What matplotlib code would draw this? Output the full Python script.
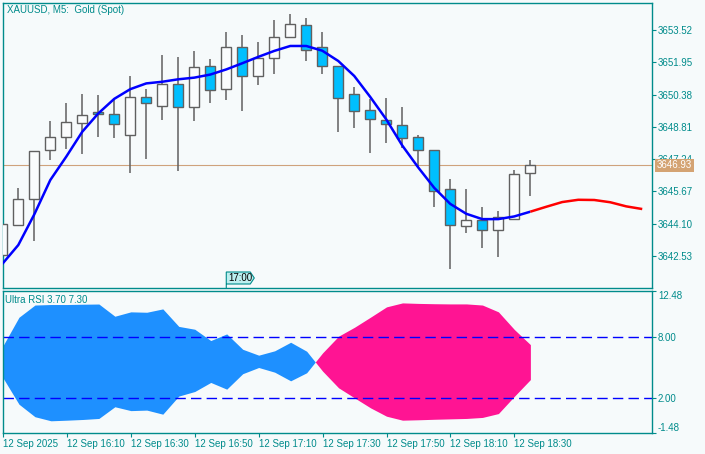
import numpy as np
import matplotlib
matplotlib.use("Agg")
import matplotlib.pyplot as plt
from matplotlib.patches import Polygon
from matplotlib.transforms import IdentityTransform

plt.rcParams['font.family'] = ['Liberation Sans', 'DejaVu Sans']

# ---------------- data ----------------
opens = [3642.58, 3644.02, 3645.29, 3647.67, 3648.30, 3648.98, 3649.52, 3649.42, 3648.40, 3650.25,
         3649.81, 3650.88, 3649.79, 3651.75, 3650.67, 3652.68, 3651.27, 3652.14, 3653.17, 3653.75,
         3652.68, 3651.75, 3650.39, 3649.61, 3649.13, 3648.89, 3648.30, 3647.67, 3645.77, 3643.97,
         3644.26, 3643.78, 3644.31, 3646.55]
closes = [3644.07, 3645.29, 3647.62, 3648.30, 3649.03, 3649.37, 3649.42, 3648.93, 3650.25, 3649.95,
          3650.88, 3649.76, 3651.71, 3650.59, 3652.68, 3651.27, 3652.14, 3653.17, 3653.80, 3652.53,
          3651.75, 3650.20, 3649.57, 3649.18, 3648.93, 3648.25, 3647.67, 3645.67, 3644.02, 3644.26,
          3643.78, 3644.41, 3646.50, 3646.93]
highs = [3644.10, 3645.82, 3647.65, 3649.09, 3649.97, 3650.41, 3650.36, 3650.16, 3651.28, 3650.65,
         3652.30, 3652.21, 3652.50, 3652.11, 3653.42, 3653.29, 3652.94, 3654.01, 3654.30, 3654.10,
         3653.42, 3651.75, 3650.73, 3650.16, 3650.20, 3649.76, 3648.40, 3647.67, 3646.26, 3645.77,
         3644.90, 3644.70, 3646.70, 3647.18]
lows = [3642.50, 3644.00, 3643.24, 3647.20, 3647.75, 3647.50, 3648.33, 3648.28, 3646.58, 3647.25,
        3649.16, 3646.68, 3649.11, 3649.98, 3650.13, 3649.60, 3650.86, 3651.40, 3653.15, 3652.03,
        3651.40, 3648.57, 3648.77, 3647.55, 3648.04, 3647.77, 3646.87, 3644.93, 3641.88, 3643.66,
        3642.90, 3642.49, 3644.28, 3645.46]

ma_blue = [3642.14, 3643.06, 3644.55, 3646.22, 3647.36, 3648.57, 3649.46, 3650.17, 3650.64, 3650.92,
           3651.00, 3651.12, 3651.20, 3651.35, 3651.60, 3651.90, 3652.21, 3652.50, 3652.74, 3652.74,
           3652.51, 3652.01, 3651.28, 3650.26, 3649.17, 3647.90, 3646.83, 3645.84, 3645.06, 3644.58,
           3644.32, 3644.32, 3644.45, 3644.68]
ma_red = [3644.68, 3644.92, 3645.15, 3645.26, 3645.25, 3645.14, 3644.94, 3644.81]

rsi_fast = [7.10, 9.90, 11.10, 11.15, 11.15, 11.18, 11.20, 10.00, 10.43, 10.39,
            10.72, 9.00, 8.72, 7.61, 8.26, 6.75, 6.17, 6.60, 7.44, 6.56,
            4.60, 2.96, 1.97, 0.99, 0.17, -0.22, -0.18, -0.13, -0.09, -0.05,
            0.05, 0.43, 2.13, 3.77]
rsi_slow = [3.94, 1.35, 0.12, -0.28, -0.22, -0.15, -0.05, 1.10, 0.72, 0.77,
            0.37, 2.15, 2.60, 3.49, 2.83, 4.35, 4.96, 4.50, 3.65, 4.44,
            6.40, 8.04, 8.92, 9.91, 10.92, 11.31, 11.26, 11.23, 11.21, 11.21,
            11.10, 10.43, 8.69, 7.21]
rsi_levels = [8.00, 2.00]

price_ticks = [3653.52, 3651.95, 3650.38, 3648.81, 3647.24, 3645.67, 3644.10, 3642.53]
rsi_ticks = [12.48, 8.00, 2.00, -1.48]
time_tick_idx = [0, 4, 8, 12, 16, 20, 24, 28, 32]
time_tick_labels = ['12 Sep 2025', '12 Sep 16:10', '12 Sep 16:30', '12 Sep 16:50', '12 Sep 17:10',
                    '12 Sep 17:30', '12 Sep 17:50', '12 Sep 18:10', '12 Sep 18:30']
marker_idx = 14
marker_label = '17:00'
current_price = 3646.93
title = 'XAUUSD, M5:  Gold (Spot)'
sub_title = 'Ultra RSI 3.70 7.30'

# ---------------- style ----------------
BG = '#F6FAFB'
TEAL = '#008B8B'
BEAR = '#00BFFF'
EDGE = '#606060'
FS = 7

W, H = 705, 454
fig = plt.figure(figsize=(W / 100, H / 100), dpi=100, facecolor=BG)
ax1 = fig.add_axes([3 / W, 1 - 288 / H, 649 / W, 285 / H], facecolor=BG)
ax2 = fig.add_axes([3 / W, 1 - 433 / H, 649 / W, 142 / H], facecolor=BG)

n = len(opens)
x = np.arange(n)
o = np.array(opens); c = np.array(closes); h = np.array(highs); l = np.array(lows)
xlim = (0.044, 40.61)

# ---------- main panel ----------
ax1.axhline(current_price, color='#CFA27C', lw=0.8, zorder=1)
ax1.vlines(x, l, h, color=EDGE, lw=1.1, zorder=2)
bull = c >= o
body_bottom = np.minimum(o, c)
body_h = np.maximum(np.abs(c - o), 0.05)
ax1.bar(x, body_h, bottom=body_bottom, width=0.62,
        color=np.where(bull, '#FAFCFD', BEAR), edgecolor=EDGE, linewidth=1.0, zorder=3)
ax1.plot(x, ma_blue, color='#0000FF', lw=1.8, zorder=4, solid_capstyle='butt')
xr = np.arange(n - 1, n - 1 + len(ma_red))
ax1.plot(xr, ma_red, color='#FF0000', lw=1.8, zorder=4, solid_capstyle='butt')

ax1.set_xlim(*xlim)
ax1.set_ylim(3640.97, 3654.83)
ax1.set_xticks([])
ax1.yaxis.tick_right()
ax1.set_yticks(price_ticks)
ax1.set_yticklabels([f'{v:.2f}' for v in price_ticks])
ax1.tick_params(axis='y', direction='out', length=3, width=0.8, color=TEAL,
                labelcolor=TEAL, labelsize=FS, pad=1.2)
for s in ax1.spines.values():
    s.set_color(TEAL); s.set_linewidth(1.0)

ax1.text(0.006, 0.9754, title, transform=ax1.transAxes, fontsize=FS, color=TEAL,
         va='center', ha='left')

# current price tag
ax1.annotate(f'{current_price:.2f}', xy=(1, current_price),
             xycoords=('axes fraction', 'data'), xytext=(3.5, 0), textcoords='offset points',
             fontsize=FS, color='white', va='center', ha='left', annotation_clip=False,
             bbox=dict(boxstyle='square,pad=0.18', fc='#D4A373', ec='none'), zorder=10)

# ---------- sub panel ----------
A = np.array(rsi_fast); B = np.array(rsi_slow)
ax2.fill_between(x, A, B, where=A >= B, interpolate=True, color='#1E90FF', lw=0)
ax2.fill_between(x, A, B, where=A <= B, interpolate=True, color='#FF1493', lw=0)
for lev in rsi_levels:
    ax2.axhline(lev, color='#0000FF', lw=1.0, dashes=(7.5, 3.75))
ax2.set_xlim(*xlim)
ax2.set_ylim(-1.48, 12.48)
ax2.yaxis.tick_right()
ax2.set_yticks(rsi_ticks)
ax2.set_yticklabels([f'{v:.2f}' for v in rsi_ticks])
ax2.tick_params(axis='y', direction='out', length=3, width=0.8, color=TEAL,
                labelcolor=TEAL, labelsize=FS, pad=1.2)
ticks = ax2.yaxis.get_major_ticks()
ticks[0].label2.set_verticalalignment('top')
ticks[-1].label2.set_verticalalignment('bottom')
ax2.set_xticks(time_tick_idx)
ax2.set_xticklabels(time_tick_labels, ha='left')
ax2.tick_params(axis='x', direction='out', length=3, width=0.8, color=TEAL,
                labelcolor=TEAL, labelsize=FS, pad=1.0)
for s in ax2.spines.values():
    s.set_color(TEAL); s.set_linewidth(1.0)
ax2.text(0.003, 0.9387, sub_title, transform=ax2.transAxes, fontsize=FS, color=TEAL,
         va='center', ha='left')

# ---------- 17:00 marker (display coords) ----------
fig.canvas.draw()
px, py = ax1.transData.transform((marker_idx, 3640.97))
left = px
bot = py + 4
top = py + 16
right = px + 24
poly = Polygon([(left, py), (left, top), (right, top), (right + 4, (top + bot) / 2),
                (right, bot), (left, bot)], closed=False, transform=IdentityTransform(),
               facecolor='#BDEFEF', edgecolor=TEAL, lw=0.8, zorder=20)
fig.patches.append(poly)
fig.text((left + 2) / W, ((top + bot) / 2) / H, marker_label, fontsize=FS, color='black',
         va='center', ha='left', zorder=21)

fig.savefig('out.png', dpi=100, facecolor=BG)
